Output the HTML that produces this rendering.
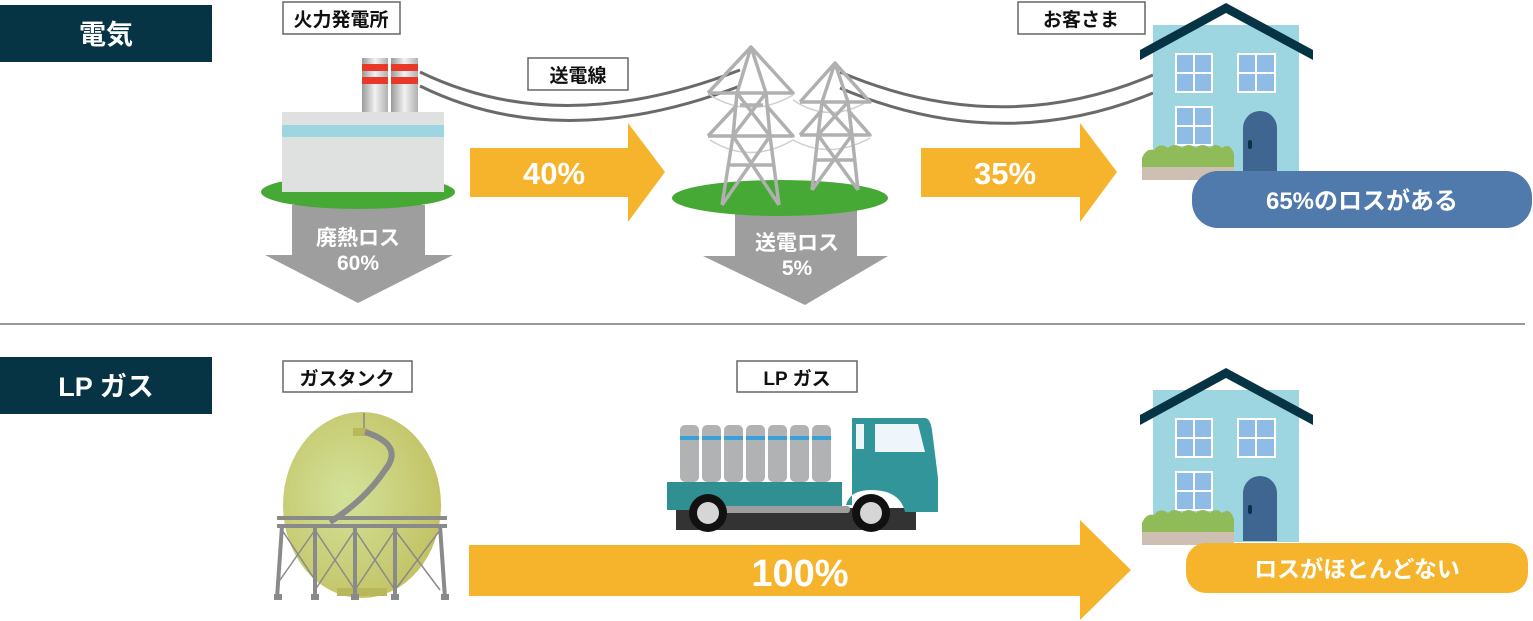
<!DOCTYPE html>
<html><head><meta charset="utf-8"><style>
html,body{margin:0;padding:0;background:#fff;}
svg{display:block;font-family:"Liberation Sans","Noto Sans CJK JP",sans-serif;}
</style></head><body>
<svg width="1533" height="621" viewBox="0 0 1533 621" xmlns="http://www.w3.org/2000/svg">
<defs>
<radialGradient id="tank" cx="0.4" cy="0.45" r="0.6"><stop offset="0" stop-color="#d3e29a"/><stop offset="1" stop-color="#c3c365"/></radialGradient>
<linearGradient id="chim" x1="0" x2="1"><stop offset="0" stop-color="#9a9a9a"/><stop offset="0.5" stop-color="#f2f2f2"/><stop offset="1" stop-color="#b0b0b0"/></linearGradient>
<g id="house">
 <rect x="1153" y="25" width="146" height="152" fill="#9dd6e0"/>
 <polygon points="1140,50 1226,3 1313,50 1313,60 1226,13 1140,60" fill="#073444"/>
 <g fill="#8ebce6" stroke="#fff" stroke-width="2">
  <rect x="1176" y="54" width="36" height="38"/><rect x="1238" y="54" width="37" height="38"/><rect x="1176" y="107" width="36" height="38"/>
 </g>
 <g stroke="#fff" stroke-width="2"><line x1="1194" y1="54" x2="1194" y2="92"/><line x1="1176" y1="73" x2="1212" y2="73"/><line x1="1256" y1="54" x2="1256" y2="92"/><line x1="1238" y1="73" x2="1275" y2="73"/><line x1="1194" y1="107" x2="1194" y2="145"/><line x1="1176" y1="126" x2="1212" y2="126"/></g>
 <path d="M1243,176 V128 a17,17 0 0 1 34,0 V176 Z" fill="#3e6690"/>
 <rect x="1248" y="140" width="4" height="9" rx="2" fill="#073444"/>
 <path d="M1142,167 V158 q4,-10 12,-8 q6,-8 14,-2 q6,-6 14,0 q6,-6 14,0 q6,-6 14,0 q6,-6 12,0 q8,-6 12,6 V167Z" fill="#8fbb58"/>
 <rect x="1142" y="167" width="92" height="13" fill="#cdbfb1"/>
</g>
</defs>

<rect x="0" y="5" width="212" height="57" fill="#073444"/>
<text x="106" y="44" font-size="27" font-weight="bold" fill="#fff" text-anchor="middle">電気</text>
<rect x="0" y="357" width="212" height="57" fill="#073444"/>
<text x="106" y="396" font-size="27" font-weight="bold" fill="#fff" text-anchor="middle">LP ガス</text>
<line x1="0" y1="324" x2="1525" y2="324" stroke="#777" stroke-width="1.5"/>

<g fill="#fff" stroke="#666" stroke-width="1.5">
<rect x="283" y="2" width="117" height="32"/><rect x="528" y="58" width="100" height="32"/><rect x="1018" y="2" width="127" height="32"/>
<rect x="283" y="361" width="129" height="31"/><rect x="737" y="361" width="120" height="31"/>
</g>
<g font-size="19" font-weight="bold" fill="#111" text-anchor="middle">
<text x="341" y="26">火力発電所</text><text x="578" y="82">送電線</text><text x="1081" y="26">お客さま</text>
<text x="347" y="385">ガスタンク</text><text x="797" y="385">LP ガス</text>
</g>

<g fill="none" stroke="#6a6a6a" stroke-width="3">
<path d="M420,72 Q560,140 740,70"/><path d="M420,86 Q560,155 740,86"/>
<path d="M840,72 Q1000,140 1153,75"/><path d="M840,88 Q1000,156 1153,93"/>
</g>

<polygon points="292,205 425,205 425,255 453,255 358,303 265,255 292,255" fill="#9e9e9e"/>
<polygon points="735,210 857,210 857,256 888,256 805,305 703,256 735,256" fill="#9e9e9e"/>
<g font-size="21" font-weight="bold" fill="#fff" text-anchor="middle">
<text x="358" y="245">廃熱ロス</text><text x="358" y="270">60%</text>
<text x="797" y="250">送電ロス</text><text x="797" y="275">5%</text>
</g>

<ellipse cx="358" cy="192" rx="97" ry="17" fill="#46a935"/>
<rect x="362" y="58" width="26" height="56" fill="url(#chim)"/><rect x="391" y="58" width="27" height="56" fill="url(#chim)"/>
<g fill="#e8382a"><rect x="362" y="64" width="26" height="7"/><rect x="362" y="77" width="26" height="7"/><rect x="391" y="64" width="27" height="7"/><rect x="391" y="77" width="27" height="7"/></g>
<rect x="282" y="112" width="162" height="80" fill="#dfe0e0"/>
<rect x="282" y="125" width="162" height="12" fill="#9dd6e0"/>

<ellipse cx="780" cy="198" rx="108" ry="18" fill="#46a935"/>
<g fill="none" stroke="#d0d0c8" stroke-width="1.5">
<path d="M710,95 Q750,120 793,95"/><path d="M710,140 Q750,165 793,140"/><path d="M793,100 Q830,125 870,100"/><path d="M793,140 Q830,160 870,138"/>
</g>
<g fill="none" stroke="#b0b0b0" stroke-width="3.5" stroke-linejoin="round">
<path d="M751,47 L737,93 L733,136 L722,205 M751,47 L766,93 L770,136 L779,205 M708,93 H793 L751,47 L708,93 M708,136 H793 L766,105 M708,136 L737,105 M737,93 L770,136 M766,93 L733,136 M733,136 L779,205 M770,136 L722,205 M730,165 H773 M740,105 H763"/>
<path d="M835,63 L822,102 L818,135 L812,190 M835,63 L848,102 L852,135 L858,190 M800,102 H870 L835,63 L800,102 M800,135 H870 L848,110 M800,135 L822,110 M822,102 L852,135 M848,102 L818,135 M818,135 L858,190 M852,135 L812,190 M815,160 H855"/>
</g>

<polygon points="470,148 628,148 628,123 665,172 628,222 628,197 470,197" fill="#f6b42c"/>
<polygon points="921,148 1080,148 1080,123 1117,172 1080,222 1080,197 921,197" fill="#f6b42c"/>
<polygon points="469,545 1080,545 1080,520 1131,570 1080,620 1080,596 469,596" fill="#f6b42c"/>
<g font-size="31" font-weight="bold" fill="#fff" text-anchor="middle">
<text x="554" y="184">40%</text><text x="1005" y="184">35%</text><text x="800" y="586" font-size="38">100%</text>
</g>

<use href="#house"/>
<use href="#house" transform="translate(0,365)"/>
<rect x="1192" y="171" width="340" height="57" rx="26" fill="#4f7aab"/>
<text x="1362" y="209" font-size="24" font-weight="bold" fill="#fff" text-anchor="middle">65%のロスがある</text>
<rect x="1186" y="543" width="342" height="50" rx="20" fill="#f6b42c"/>
<text x="1357" y="577" font-size="23" font-weight="bold" fill="#fff" text-anchor="middle">ロスがほとんどない</text>

<ellipse cx="362" cy="505" rx="79" ry="93" fill="url(#tank)"/>
<rect x="337" y="588" width="50" height="8" fill="#b8b85a"/>
<rect x="353" y="428" width="14" height="8" fill="#b8b85a"/>
<line x1="364" y1="413" x2="364" y2="428" stroke="#888" stroke-width="1.5"/>
<path d="M365,432 Q405,445 385,470 Q365,500 330,522" fill="none" stroke="#8a8a8a" stroke-width="6"/>
<g stroke="#8a8a8a" stroke-width="4" fill="none">
<line x1="277" y1="518" x2="447" y2="518"/><line x1="277" y1="526" x2="447" y2="526"/>
<line x1="282" y1="526" x2="277" y2="598"/><line x1="315" y1="526" x2="315" y2="598"/><line x1="355" y1="526" x2="355" y2="598"/><line x1="395" y1="526" x2="395" y2="598"/><line x1="440" y1="526" x2="445" y2="598"/>
</g>
<g stroke="#8a8a8a" stroke-width="1.5"><path d="M282,530 L315,580 M315,530 L280,580 M315,530 L355,590 M355,530 L315,590 M355,530 L395,590 M395,530 L355,590 M395,530 L440,590 M440,530 L395,590"/></g>
<g fill="#8a8a8a"><rect x="274" y="594" width="8" height="6"/><rect x="311" y="594" width="8" height="6"/><rect x="351" y="594" width="8" height="6"/><rect x="391" y="594" width="8" height="6"/><rect x="441" y="594" width="8" height="6"/></g>

<g>
<g fill="#b0b2b3">
<rect x="680" y="425" width="19" height="57" rx="5"/><rect x="702" y="425" width="19" height="57" rx="5"/><rect x="724" y="425" width="19" height="57" rx="5"/><rect x="746" y="425" width="19" height="57" rx="5"/><rect x="768" y="425" width="19" height="57" rx="5"/><rect x="790" y="425" width="19" height="57" rx="5"/><rect x="812" y="425" width="19" height="57" rx="5"/>
</g>
<g fill="#3aa0d8"><rect x="680" y="436" width="19" height="4"/><rect x="702" y="436" width="19" height="4"/><rect x="724" y="436" width="19" height="4"/><rect x="746" y="436" width="19" height="4"/><rect x="768" y="436" width="19" height="4"/><rect x="790" y="436" width="19" height="4"/><rect x="812" y="436" width="19" height="4"/></g>
<rect x="676" y="508" width="240" height="22" fill="#333"/>
<rect x="667" y="482" width="175" height="28" fill="#2f8f91"/>
<path d="M852,418 H925 Q930,418 932,430 L938,478 L938,512 H905 Q900,490 871,490 Q850,490 846,505 L852,505 Z" fill="#32959a"/>
<path d="M875,424 H918 L925,452 H875 Z" fill="#eef6fb"/>
<rect x="856" y="424" width="8" height="25" fill="#eef6fb"/>
<rect x="700" y="506" width="150" height="7" rx="3" fill="#9e9e9e"/>
<circle cx="708" cy="513" r="19" fill="#111"/><circle cx="708" cy="513" r="11" fill="#d6d6d6"/>
<circle cx="871" cy="513" r="19" fill="#111"/><circle cx="871" cy="513" r="11" fill="#d6d6d6"/>
</g>
</svg>
</body></html>
